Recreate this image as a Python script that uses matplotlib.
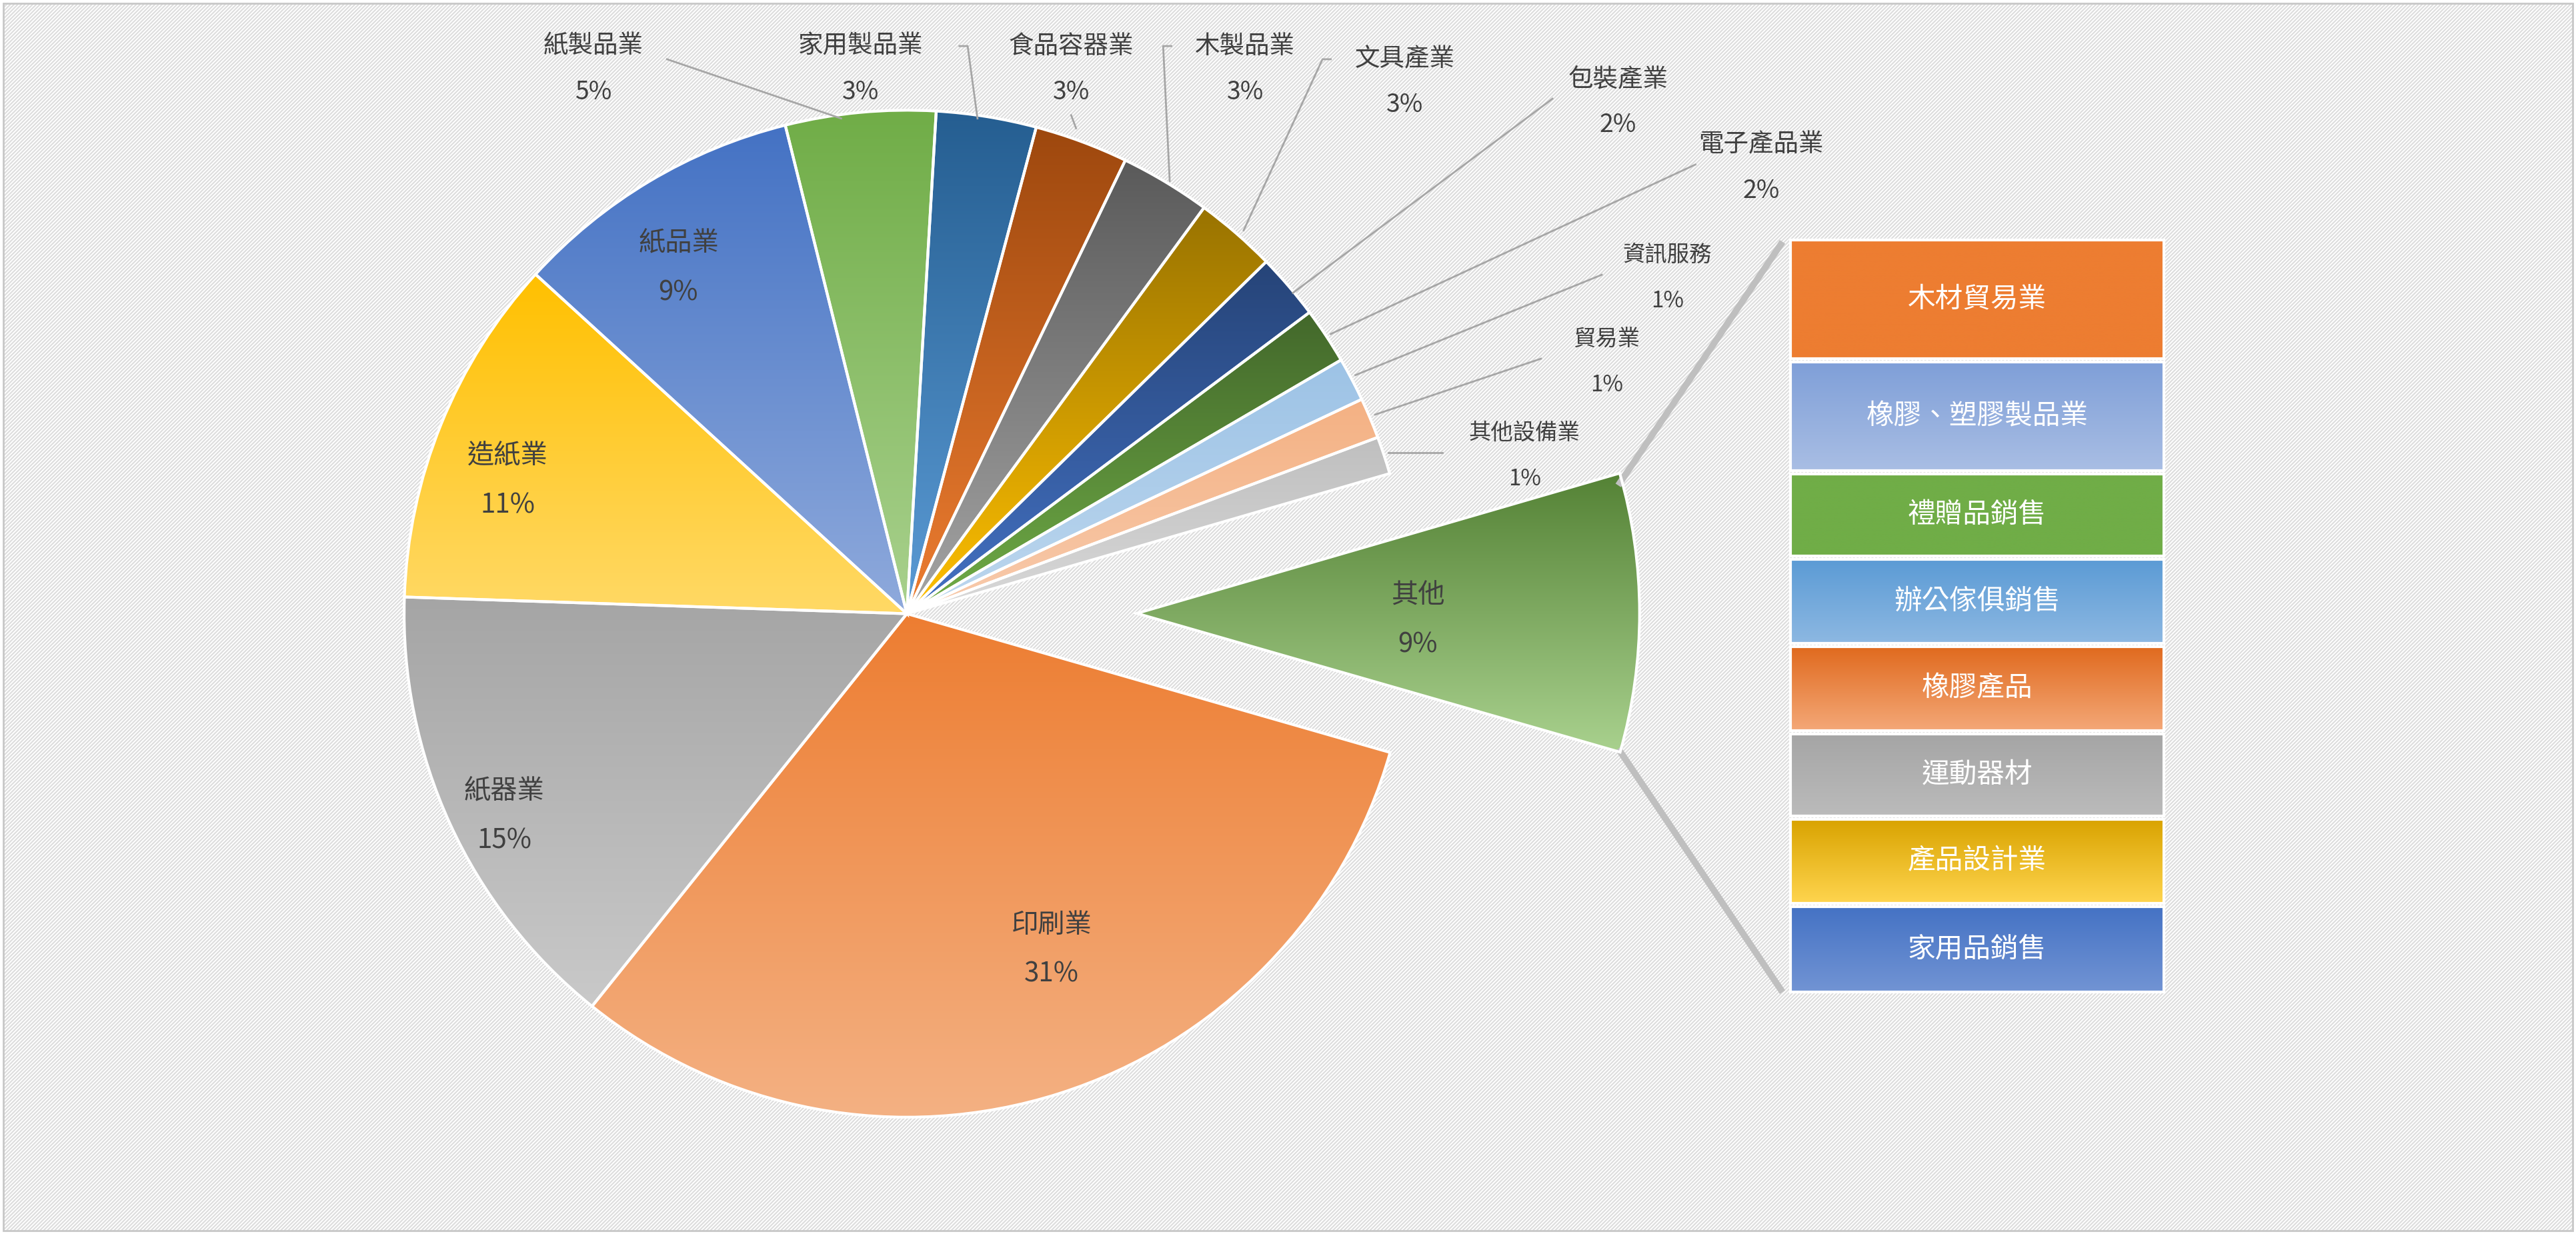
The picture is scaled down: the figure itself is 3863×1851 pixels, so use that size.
import numpy as np
import matplotlib
matplotlib.use("Agg")
import matplotlib.pyplot as plt
from matplotlib.colors import LinearSegmentedColormap
from matplotlib.patches import Rectangle

plt.rcParams['font.family'] = ['Noto Sans CJK TC', 'DejaVu Sans']
plt.rcParams['hatch.color'] = '#DDDDDD'
plt.rcParams['hatch.linewidth'] = 1.5

categories = ['其他', '其他設備業', '貿易業', '資訊服務', '電子產品業', '包裝產業', '文具產業',
              '木製品業', '食品容器業', '家用製品業', '紙製品業', '紙品業', '造紙業', '紙器業', '印刷業']
values = [8.9, 1.2, 1.3, 1.4, 1.8, 2.1, 2.6, 2.9, 3.0, 3.2, 4.8, 9.3, 11.2, 14.7, 31.2]
others_items = ['木材貿易業', '橡膠、塑膠製品業', '禮贈品銷售', '辦公傢俱銷售', '橡膠產品', '運動器材', '產品設計業', '家用品銷售']

colors = [('#548235', '#A9D18E'), ('#BFBFBF', '#D9D9D9'), ('#F4B183', '#F8CBAD'), ('#9DC3E6', '#BDD7EE'),
          ('#43682B', '#70AD47'), ('#264478', '#4472C4'), ('#997300', '#FFC000'), ('#5A5A5A', '#A5A5A5'),
          ('#9E480E', '#ED7D31'), ('#255E91', '#5B9BD5'), ('#70AD47', '#A9D18E'), ('#4472C4', '#8FAADC'),
          ('#FFC000', '#FFD966'), ('#A5A5A5', '#C9C9C9'), ('#ED7D31', '#F4B183')]
box_colors = [('#ED7D31', '#ED7D31'), ('#7F9FD8', '#A9BEE4'), ('#70AD47', '#70AD47'), ('#5B9BD5', '#8DB8E2'),
              ('#E06A1E', '#F4A878'), ('#A5A5A5', '#BBBBBB'), ('#D9A300', '#FFD54F'), ('#4472C4', '#7294D4')]

W, H = 1568, 750
fig = plt.figure(figsize=(38.63, 18.51), dpi=100)
ax = fig.add_axes([0, 0, 1, 1])

ax.add_patch(Rectangle((2, 2), W - 4, H - 4, facecolor='white', edgecolor='#DDDDDD', hatch='//////', lw=0, zorder=0))
ax.add_patch(Rectangle((2, 2), W - 4, H - 4, facecolor='none', edgecolor='#C8C8C8', lw=2, zorder=1))

cx, cy, R = 552, 377, 306
explode = [140] + [0] * (len(values) - 1)
wedges, _ = ax.pie(values, startangle=-16, counterclock=True, center=(cx, cy), radius=R,
                   explode=explode, wedgeprops=dict(edgecolor='white', linewidth=3), frame=True)

for w, (c1, c2) in zip(wedges, colors):
    th = np.radians(np.linspace(w.theta1, w.theta2, 50))
    x0, y0 = w.center
    ys = np.concatenate([[y0], y0 + w.r * np.sin(th)])
    xs = np.concatenate([[x0], x0 + w.r * np.cos(th)])
    g = np.linspace(0, 1, 256).reshape(-1, 1)
    im = ax.imshow(g, cmap=LinearSegmentedColormap.from_list('g', [c2, c1]),
                   extent=[xs.min(), xs.max(), ys.min(), ys.max()], origin='lower', aspect='auto', zorder=2)
    im.set_clip_path(w)
    w.set_zorder(3); w.set_facecolor('none')

pct = [v / sum(values) * 100 for v in values]
fs_in = 29
inside = {'其他': (863, 362), '紙品業': (413, 148), '造紙業': (309, 277), '紙器業': (307, 481), '印刷業': (640, 562)}
outside = {'其他設備業': ((928, 263), (845, 275)), '貿易業': ((978, 206), (837, 252)),
           '資訊服務': ((1015, 155), (825, 228)), '電子產品業': ((1072, 88), (810, 203)),
           '包裝產業': ((985, 48), (787, 178)), '文具產業': ((855, 36), (757, 140)),
           '木製品業': ((758, 28), (712, 110)), '食品容器業': ((652, 28), (655, 78)),
           '家用製品業': ((524, 28), (595, 72)), '紙製品業': ((361, 28), (512, 72))}
for name, p in zip(categories, pct):
    if name in inside:
        x, y = inside[name]
        ax.text(x, H - y, name, ha='center', va='center', fontsize=fs_in, color='#404040', zorder=5)
        ax.text(x, H - y - 30, f'{p:.0f}%', ha='center', va='center', fontsize=fs_in, color='#404040', zorder=5)
    else:
        (x, y), (lx, ly) = outside[name]
        fs = 27 if name not in ('資訊服務', '貿易業', '其他設備業') else 24
        ax.text(x, H - y, name, ha='center', va='center', fontsize=fs, color='#404040', zorder=5)
        ax.text(x, H - y - 28, f'{p:.0f}%', ha='center', va='center', fontsize=fs, color='#404040', zorder=5)
        if name == '紙製品業':
            pts = [(x + 45, H - y - 8), (lx, H - ly)]
        elif name == '家用製品業':
            pts = [(x + 60, H - y), (x + 65, H - y), (lx, H - ly)]
        elif name == '食品容器業':
            pts = [(x, H - y - 42), (lx, H - ly)]
        elif name in ('木製品業', '文具產業'):
            pts = [(x - 45, H - y), (x - 50, H - y), (lx, H - ly)]
        else:
            pts = [(x - 40 if name != '其他設備業' else x - 50, H - y - 12), (lx, H - ly)]
        ax.plot(*zip(*pts), color='#A6A6A6', lw=2, zorder=4)

bx0, bx1 = 1090, 1317
tops = [146, 220, 288, 340, 393, 446, 498, 551]
bots = [218, 286, 338, 391, 444, 496, 549, 603]
for name, t, b, (c1, c2) in zip(others_items, tops, bots, box_colors):
    g = np.linspace(0, 1, 256).reshape(-1, 1)
    ax.imshow(g, cmap=LinearSegmentedColormap.from_list('b', [c2, c1]), extent=[bx0, bx1, H - b, H - t],
              origin='lower', aspect='auto', zorder=3)
    ax.add_patch(Rectangle((bx0, H - b), bx1 - bx0, b - t, facecolor='none', edgecolor='white', lw=3, zorder=4))
    ax.text((bx0 + bx1) / 2, H - (t + b) / 2, name, ha='center', va='center', fontsize=30, color='white', zorder=5)

for (a, b) in [((985, 295), (1085, 147)), ((985, 455), (1085, 603))]:
    ax.plot([a[0], b[0]], [H - a[1], H - b[1]], color='#BFBFBF', lw=7, zorder=2, solid_capstyle='butt')

ax.set_xlim(0, W); ax.set_ylim(0, H); ax.axis('off'); ax.set_aspect('auto')
fig.savefig('out.png', dpi=100)
